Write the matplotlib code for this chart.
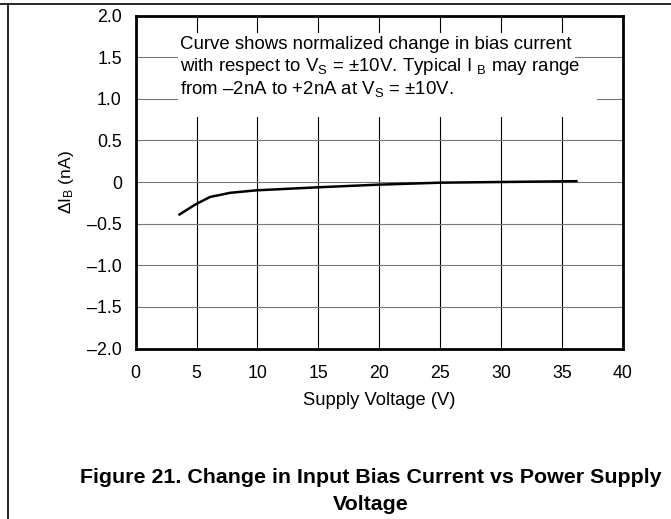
import matplotlib.pyplot as plt
from matplotlib.lines import Line2D
from matplotlib.patches import Rectangle

plt.rcParams['font.family'] = ['Liberation Sans', 'DejaVu Sans']
plt.rcParams['mathtext.fontset'] = 'custom'
plt.rcParams['mathtext.rm'] = 'Liberation Sans'
plt.rcParams['mathtext.it'] = 'Liberation Sans:italic'

# curve
voltage = [3.6, 4.9, 6.1, 7.75, 9.9, 14.9, 19.9, 25.0, 29.9, 36.2]
delta_ib = [-0.39, -0.27, -0.18, -0.13, -0.10, -0.064, -0.032, -0.008, 0.0, 0.01]

x_ticks = [0, 5, 10, 15, 20, 25, 30, 35, 40]
y_ticks = [-2.0, -1.5, -1.0, -0.5, 0, 0.5, 1.0, 1.5, 2.0]
y_labels = ['–2.0', '–1.5', '–1.0', '–0.5', '0', '0.5', '1.0', '1.5', '2.0']

fig = plt.figure(figsize=(6.71, 5.19), dpi=100)
ax = fig.add_axes([0.2022, 0.3285, 0.7258, 0.6416])

for x in x_ticks[1:-1]:
    ax.axvline(x, color='black', lw=0.8, zorder=1)
for y in y_ticks[1:-1]:
    ax.axhline(y, color='#777777', lw=0.8, zorder=1)

# white box behind the note
ax.add_patch(Rectangle((0.087, 0.696), 0.815, 0.252, transform=ax.transAxes,
                       facecolor='white', edgecolor='none', zorder=2))
ax.add_patch(Rectangle((0.9, 0.72), 0.047, 0.05, transform=ax.transAxes,
                       facecolor='white', edgecolor='none', zorder=2))

ax.plot(voltage, delta_ib, color='black', lw=1.8, zorder=3)

note = ['Curve shows normalized change in bias current',
        r'with respect to V$_\mathrm{S}$ = ±10V. Typical I $_\mathrm{B}$ may range',
        r'from –2nA to +2nA at V$_\mathrm{S}$ = ±10V.']
for i, line in enumerate(note):
    ax.text(3.6, 1.65 - i * 0.265, line, fontsize=13.4, va='center', ha='left', zorder=4)

ax.set_xlim(0, 40)
ax.set_ylim(-2, 2)
ax.set_xticks(x_ticks)
ax.set_xticklabels([str(v) for v in x_ticks])
ax.set_yticks(y_ticks)
ax.set_yticklabels(y_labels)
ax.tick_params(length=0, labelsize=12.8)
ax.tick_params(axis='x', pad=12)
ax.tick_params(axis='y', pad=10)
for s in ax.spines.values():
    s.set_linewidth(2)

ax.set_xlabel('Supply Voltage (V)', fontsize=13.2, labelpad=7)
ax.set_ylabel(r'$\Delta$I$_\mathrm{B}$ (nA)', fontsize=12.5, labelpad=8)

fig.text(0.553, 0.054, 'Figure 21. Change in Input Bias Current vs Power Supply\nVoltage',
         ha='center', va='center', fontsize=15.4, fontweight='bold', linespacing=1.5)

# page frame
fig.add_artist(Line2D([0, 1], [1 - 4 / 519, 1 - 4 / 519], color='black', lw=1.2))
fig.add_artist(Line2D([8 / 671, 8 / 671], [0, 1 - 4 / 519], color='black', lw=1.2))

plt.savefig('out.png', dpi=100)
